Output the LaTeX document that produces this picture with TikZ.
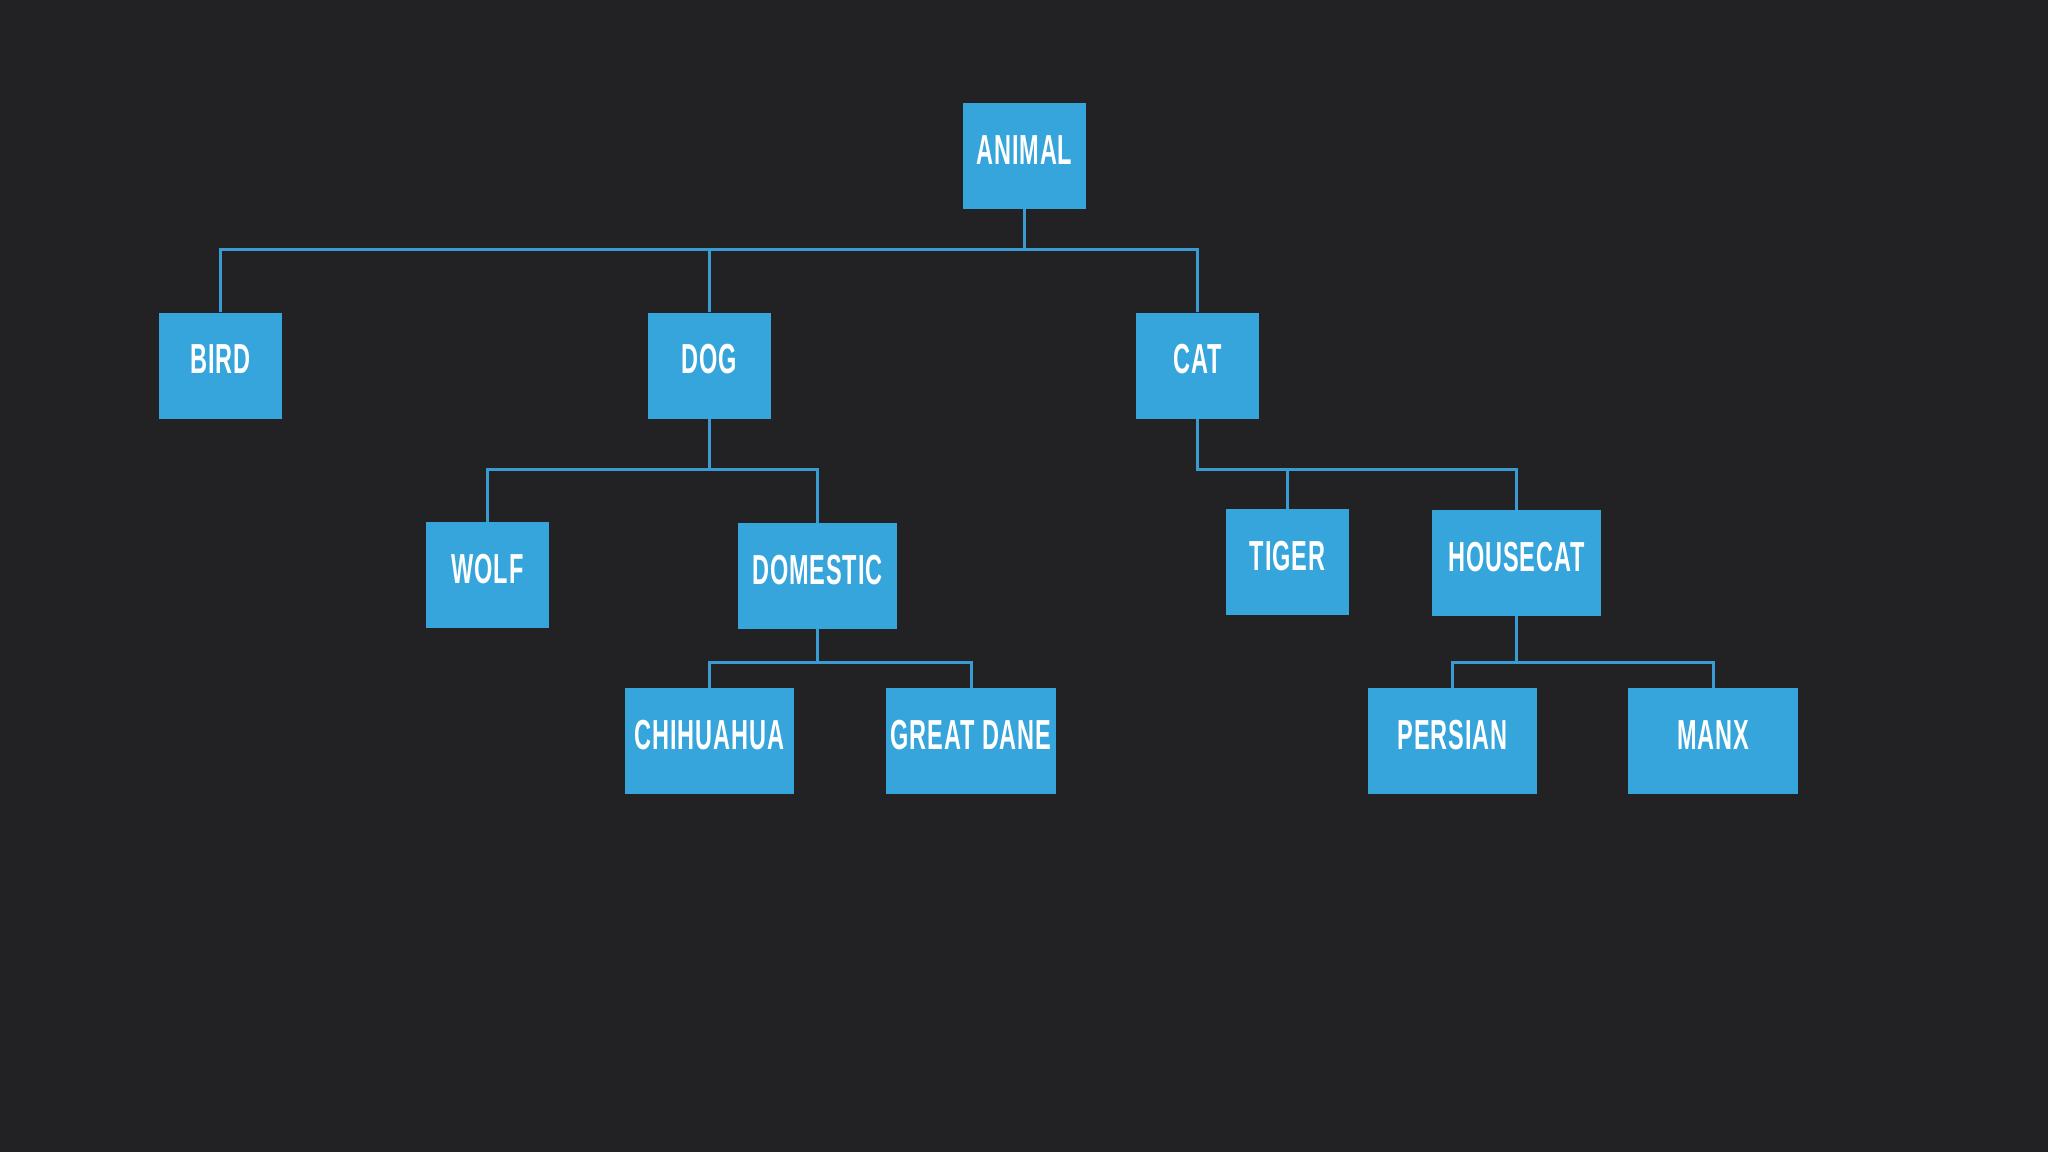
\documentclass[tikz,border=0pt]{standalone}
\usepackage{fontspec}
\newfontfamily\dinfont[FakeStretch=0.56,LetterSpace=2]{Liberation Sans}
\definecolor{bgc}{HTML}{222224}
\definecolor{boxc}{HTML}{36A5DC}
\definecolor{linec}{HTML}{3A9BD3}
\begin{document}
\begin{tikzpicture}[x=0.5pt,y=-0.5pt,
  box/.style={fill=boxc, text=white, inner sep=0pt, minimum height=53pt,
    font=\dinfont\bfseries\fontsize{21}{21}\selectfont, text height=10pt, text depth=2pt},
  conn/.style={draw=linec, line width=1.5pt, line join=miter}]
\fill[bgc] (0,0) rectangle (2048,1152);
\useasboundingbox (0,0) rectangle (2048,1152);
% junctions
\coordinate (jA) at (1024.5,249);
\coordinate (jD) at (709.5,469);
\coordinate (jC) at (1197.5,469);
\coordinate (jM) at (817.5,662);
\coordinate (jH) at (1516.5,662);
% nodes
\node[box, minimum width=61.5pt] (animal) at (1024.5,156) {ANIMAL};
\node[box, minimum width=61.5pt] (bird) at (220.5,365.5) {BIRD};
\node[box, minimum width=61.5pt] (dog) at (709.5,365.5) {DOG};
\node[box, minimum width=61.5pt] (cat) at (1197.5,365.5) {CAT};
\node[box, minimum width=61.5pt] (wolf) at (487.5,575) {WOLF};
\node[box, minimum width=79.5pt] (domestic) at (817.5,576) {DOMESTIC};
\node[box, minimum width=61.5pt] (tiger) at (1287.5,562) {TIGER};
\node[box, minimum width=84.5pt] (housecat) at (1516.5,563) {HOUSECAT};
\node[box, minimum width=84.5pt] (chihuahua) at (709.5,741) {CHIHUAHUA};
\node[box, minimum width=85pt] (greatdane) at (971,741) {GREAT DANE};
\node[box, minimum width=84.5pt] (persian) at (1452.5,741) {PERSIAN};
\node[box, minimum width=85pt] (manx) at (1713,741) {MANX};
% connectors
\draw[conn] (animal.south) -- (jA);
\draw[conn] (bird.north) |- (jA) -| (cat.north);
\draw[conn] (jA) -| (dog.north);
\draw[conn] (dog.south) -- (jD);
\draw[conn] (wolf.north) |- (jD) -| (domestic.north);
\draw[conn] (cat.south) -- (jC) -| (housecat.north);
\draw[conn] (jC) -| (tiger.north);
\draw[conn] (domestic.south) -- (jM);
\draw[conn] (chihuahua.north) |- (jM) -| (greatdane.north);
\draw[conn] (housecat.south) -- (jH);
\draw[conn] (persian.north) |- (jH) -| (manx.north);
\end{tikzpicture}
\end{document}
